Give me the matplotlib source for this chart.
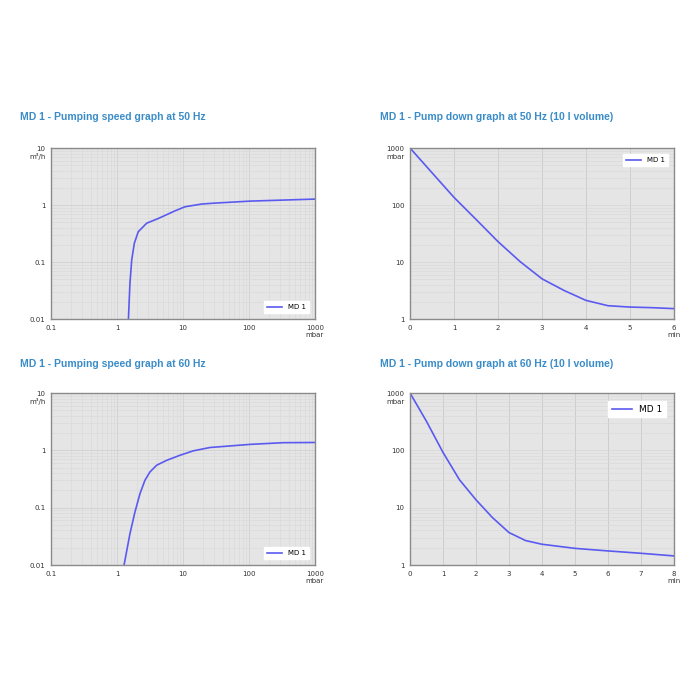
import matplotlib
matplotlib.use("Agg")
import matplotlib.pyplot as plt
from matplotlib.ticker import LogLocator, NullFormatter, FixedLocator

# pumping speed at 50 Hz (pressure mbar, speed m3/h)
p50 = [1.49, 1.57, 1.67, 1.83, 2.10, 2.82, 4.23, 7.57, 10.7, 19.2, 30.5, 104, 1000]
s50 = [0.01, 0.042, 0.108, 0.213, 0.34, 0.48, 0.58, 0.79, 0.93, 1.04, 1.08, 1.17, 1.27]

# pumping speed at 60 Hz
p60 = [1.28, 1.57, 1.87, 2.23, 2.65, 3.16, 3.99, 5.67, 9.0, 14.3, 25.6, 104, 331, 1000]
s60 = [0.01, 0.035, 0.084, 0.176, 0.30, 0.42, 0.55, 0.67, 0.82, 0.98, 1.12, 1.27, 1.36, 1.37]

# pump down at 50 Hz (time min, pressure mbar)
t50 = [0, 0.53, 1.0, 1.5, 2.0, 2.5, 3.0, 3.5, 4.0, 4.5, 5.0, 5.5, 6.0]
pd50 = [1000, 347, 136, 56, 22.8, 10.2, 5.07, 3.17, 2.12, 1.71, 1.62, 1.58, 1.52]

# pump down at 60 Hz
t60 = [0, 0.5, 1.0, 1.5, 2.0, 2.5, 3.0, 3.5, 4.0, 5.0, 6.0, 7.0, 8.0]
pd60 = [1000, 320, 92, 30.6, 13.7, 6.7, 3.68, 2.67, 2.30, 1.95, 1.76, 1.60, 1.44]

titles = ["MD 1 - Pumping speed graph at 50 Hz",
          "MD 1 - Pump down graph at 50 Hz (10 l volume)",
          "MD 1 - Pumping speed graph at 60 Hz",
          "MD 1 - Pump down graph at 60 Hz (10 l volume)"]

LINE = "#5a5af0"
BG = "#e5e5e5"
TITLE_C = "#3a8cc8"
TXT = "#333333"

fig = plt.figure(figsize=(7, 7), dpi=100)


def frame(ax):
    ax.set_facecolor(BG)
    for s in ax.spines.values():
        s.set_color("#8a8a8a")
        s.set_linewidth(1.0)
    ax.tick_params(which="both", length=0, labelsize=5, colors=TXT, pad=4)


def style_legend(ax, loc, size):
    leg = ax.legend(loc=loc, fontsize=size, frameon=True, fancybox=False,
                    handlelength=2.2, borderpad=0.4, borderaxespad=0.9)
    leg.get_frame().set_edgecolor("white")
    leg.get_frame().set_facecolor("white")
    leg.get_frame().set_alpha(1)


def speed_chart(rect, x, y):
    ax = fig.add_axes(rect)
    frame(ax)
    ax.set_xscale("log")
    ax.set_yscale("log")
    ax.set_xlim(0.1, 1000)
    ax.set_ylim(0.01, 10)
    ax.xaxis.set_major_locator(FixedLocator([0.1, 1, 10, 100, 1000]))
    ax.yaxis.set_major_locator(FixedLocator([0.01, 0.1, 1, 10]))
    ax.xaxis.set_minor_locator(LogLocator(subs=range(2, 10)))
    ax.yaxis.set_minor_locator(LogLocator(subs=range(2, 10)))
    ax.xaxis.set_minor_formatter(NullFormatter())
    ax.yaxis.set_minor_formatter(NullFormatter())
    ax.set_xticklabels(["0.1", "1", "10", "100", "1000\nmbar"])
    ax.set_yticklabels(["0.01", "0.1", "1", "10"])
    ax.grid(which="major", color="#d0d0d0", linewidth=0.6)
    ax.grid(which="minor", color="#dadada", linewidth=0.5)
    ax.set_axisbelow(True)
    ax.plot(x, y, color=LINE, linewidth=1.2, label="MD 1")
    ax.text(-0.02, 0.95, "m³/h", transform=ax.transAxes, ha="right",
            va="center", fontsize=5, color=TXT)
    style_legend(ax, "lower right", 5)
    return ax


def down_chart(rect, x, y, tmax, legsize):
    ax = fig.add_axes(rect)
    frame(ax)
    ax.set_yscale("log")
    ax.set_xlim(0, tmax)
    ax.set_ylim(1, 1000)
    ticks = list(range(0, tmax + 1))
    ax.xaxis.set_major_locator(FixedLocator(ticks))
    labels = [str(t) for t in ticks]
    labels[-1] = labels[-1] + "\nmin"
    ax.set_xticklabels(labels)
    ax.yaxis.set_major_locator(FixedLocator([1, 10, 100, 1000]))
    ax.yaxis.set_minor_locator(LogLocator(subs=range(2, 10)))
    ax.yaxis.set_minor_formatter(NullFormatter())
    ax.set_yticklabels(["1", "10", "100", "1000"])
    ax.grid(which="major", axis="x", color="#cdcdcd", linewidth=0.7)
    ax.grid(which="major", axis="y", color="#d6d6d6", linewidth=0.5)
    ax.grid(which="minor", axis="y", color="#dadada", linewidth=0.5)
    ax.set_axisbelow(True)
    ax.plot(x, y, color=LINE, linewidth=1.2, label="MD 1")
    ax.text(-0.02, 0.95, "mbar", transform=ax.transAxes, ha="right",
            va="center", fontsize=5, color=TXT)
    style_legend(ax, "upper right", legsize)
    return ax


W = 264 / 700
speed_chart([51 / 700, 1 - 319 / 700, W, 171 / 700], p50, s50)
down_chart([410 / 700, 1 - 319 / 700, W, 171 / 700], t50, pd50, 6, 5)
speed_chart([51 / 700, 1 - 565 / 700, W, 172 / 700], p60, s60)
down_chart([410 / 700, 1 - 565 / 700, W, 172 / 700], t60, pd60, 8, 6.5)

title_pos = [(20, 117), (380, 117), (20, 364), (380, 364)]
for (tx, ty), title in zip(title_pos, titles):
    fig.text(tx / 700, 1 - ty / 700, title, fontsize=7.5, fontweight="bold",
             color=TITLE_C, family="Liberation Sans", ha="left", va="center")

fig.savefig("out.png", dpi=100, facecolor="white")
